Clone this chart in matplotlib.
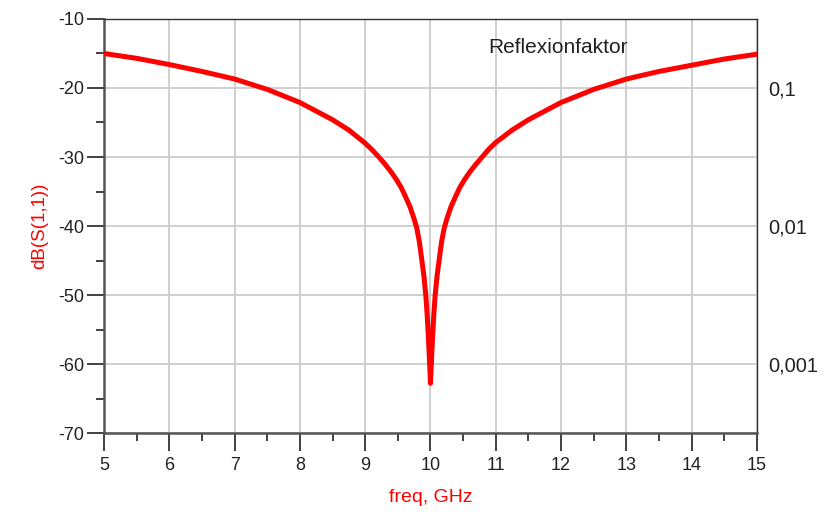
import matplotlib.pyplot as plt
from matplotlib.ticker import MultipleLocator

plt.rcParams['font.family'] = ['Liberation Sans', 'DejaVu Sans']
plt.rcParams['axes.unicode_minus'] = False

# S11 in dB (freq in GHz)
freq = [5.0, 5.5, 6.0, 6.5, 7.0, 7.5, 8.0, 8.5, 8.75, 9.0, 9.1, 9.2, 9.3,
        9.4, 9.48, 9.55, 9.62, 9.69, 9.75, 9.79, 9.83, 9.86, 9.9, 9.93, 9.95,
        9.964, 9.98, 10.0,
        10.02, 10.036, 10.05, 10.07, 10.1, 10.14, 10.17, 10.21, 10.25, 10.31,
        10.38, 10.45, 10.52, 10.6, 10.7, 10.8, 10.9, 11.0, 11.25, 11.5, 12.0,
        12.5, 13.0, 13.5, 14.0, 14.5, 15.0]
s11_db = [-15.0, -15.7, -16.6, -17.6, -18.7, -20.2, -22.1, -24.6, -26.1, -28.0,
          -28.9, -29.9, -31.0, -32.2, -33.3, -34.4, -35.8, -37.3, -39.0, -40.3,
          -42.3, -44.4, -47.3, -50.2, -53.0, -55.4, -58.5, -62.8,
          -58.5, -55.4, -53.0, -50.2, -47.3, -44.4, -42.3, -40.3, -39.0, -37.3,
          -35.8, -34.4, -33.3, -32.2, -31.0, -29.9, -28.8, -27.9, -26.1, -24.6,
          -22.1, -20.2, -18.7, -17.6, -16.7, -15.8, -15.1]
right_ticks = [-20, -40, -60]
right_labels = ['0,1', '0,01', '0,001']

fig = plt.figure(figsize=(8.25, 5.23), dpi=100)
ax = fig.add_axes([0.126, 0.172, 0.7916, 0.7917])

ax.plot(freq, s11_db, color='#ff0000', lw=3.6, solid_joinstyle='round', zorder=3)
ax.set_xlim(5, 15)
ax.set_ylim(-70, -10)
ax.xaxis.set_major_locator(MultipleLocator(1))
ax.xaxis.set_minor_locator(MultipleLocator(0.5))
ax.yaxis.set_major_locator(MultipleLocator(10))
ax.yaxis.set_minor_locator(MultipleLocator(5))
ax.grid(True, which='major', color='#cccccc', lw=1.3, zorder=0)

ax.tick_params(which='major', direction='out', length=12, width=1.3,
               color='#333333', labelsize=13, labelcolor='#222222', pad=2)
ax.tick_params(which='minor', direction='out', length=6, width=1.3, color='#333333')
ax.tick_params(axis='x', which='major', length=13, pad=4)

for side in ['left', 'bottom']:
    ax.spines[side].set_color('#555555')
    ax.spines[side].set_linewidth(1.8)
for side in ['top', 'right']:
    ax.spines[side].set_color('#333333')
    ax.spines[side].set_linewidth(1.0)

ax.set_xlabel('freq, GHz', color='#ff0000', fontsize=14, labelpad=11)
ax.set_ylabel('dB(S(1,1))', color='#ff0000', fontsize=13.5, labelpad=7)

ax.text(0.589, 0.955, 'Reflexionfaktor', transform=ax.transAxes,
        fontsize=15, color='#222222', va='top', ha='left')

ax2 = ax.twinx()
ax2.set_ylim(ax.get_ylim())
ax2.set_yticks(right_ticks)
ax2.set_yticklabels(right_labels)
ax2.tick_params(axis='y', length=0, pad=8, labelsize=14.5, labelcolor='#222222')
for side in ax2.spines:
    ax2.spines[side].set_visible(False)

fig.savefig('out.png', dpi=100)
